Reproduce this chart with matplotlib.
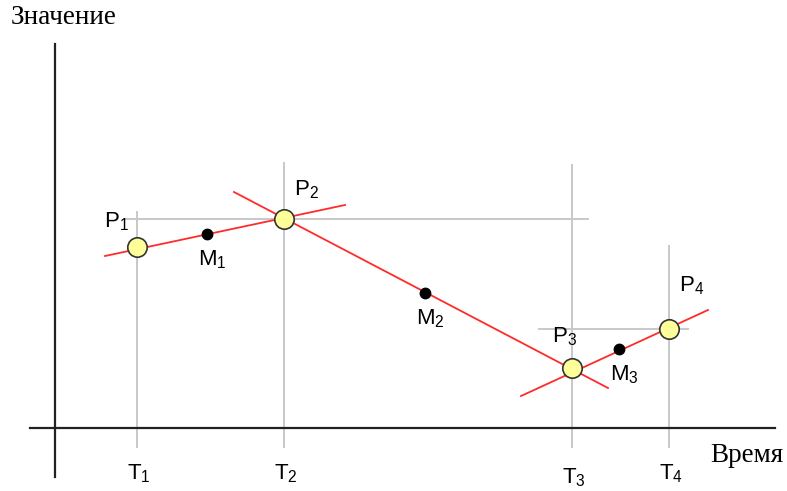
import matplotlib
matplotlib.use("Agg")
import matplotlib.pyplot as plt

plt.rcParams["mathtext.default"] = "regular"

# moments in time and values at the points (pixel-like units, origin at axes crossing)
t_vals = [82, 229, 517, 614]
p_vals = [181, 209, 60, 99]
t_labels = ["T$_1$", "T$_2$", "T$_3$", "T$_4$"]
p_labels = ["P$_1$", "P$_2$", "P$_3$", "P$_4$"]

# midpoints
m_t = [152, 370, 564]
m_vals = [194, 135, 79]
m_labels = ["M$_1$", "M$_2$", "M$_3$"]

# red lines through neighbouring points
seg_t = [(50, 290), (179, 553), (466, 653)]
seg_v = [(172, 223), (236, 40), (32, 118)]

# tops of grey guides
guide_top = [216, 265, 263, 182]

red = "#ff2a2a"
grey = "#c8c8cc"
yellow = "#ffff99"

fig = plt.figure(figsize=(7.87, 4.91), dpi=100)
ax = fig.add_axes([0, 0, 1, 1])
ax.set_xlim(-55, 732)
ax.set_ylim(-63, 428)
ax.axis("off")

# grey guides
for t, top in zip(t_vals, guide_top):
    ax.plot([t, t], [-19, top], color=grey, lw=1.4, zorder=1)
ax.plot([70, 533], [p_vals[1], p_vals[1]], color=grey, lw=1.4, zorder=1)
ax.plot([484, 633], [p_vals[3], p_vals[3]], color=grey, lw=1.4, zorder=1)

# axes
ax.plot([0, 0], [-49, 384], color="#222222", lw=1.6, zorder=2)
ax.plot([-25, 720], [0, 0], color="#222222", lw=1.6, zorder=2)

# red lines
for st, sv in zip(seg_t, seg_v):
    ax.plot(st, sv, color=red, lw=1.3, zorder=3)

ax.plot(t_vals, p_vals, "o", ms=14, mfc=yellow, mec="#333333", mew=1.2,
        ls="none", zorder=5)
ax.plot(m_t, m_vals, "o", ms=7.5, color="black", ls="none", zorder=5)

sans = "Liberation Sans"
serif = "Liberation Serif"
p_off = [(-21, 25), (22, 29), (-8, 31), (23, 43)]
for t, v, lab, (dx, dy) in zip(t_vals, p_vals, p_labels, p_off):
    ax.text(t + dx, v + dy, lab, family=sans, fontsize=16,
            ha="center", va="center")
for t, v, lab in zip(m_t, m_vals, m_labels):
    ax.text(t + 5, v - 26, lab, family=sans, fontsize=16,
            ha="center", va="center")
t_dy = [-46, -46, -50, -46]
for t, lab, dy in zip(t_vals, t_labels, t_dy):
    ax.text(t + 2, dy, lab, family=sans, fontsize=16, ha="center",
            va="center")

ax.text(728, -27, "Время", family=serif, fontsize=19.5, ha="right",
        va="center")
ax.text(-44, 411, "Значение", family=serif, fontsize=19.5, ha="left",
        va="center")

fig.savefig("out.png", dpi=100)
